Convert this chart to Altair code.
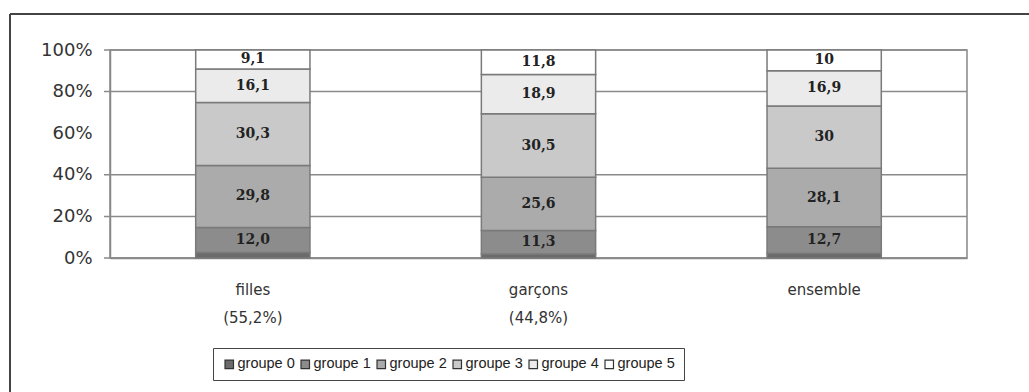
import altair as alt
import pandas as pd

# Share of each group (in %) for girls, boys and everyone
groups = ["groupe 0", "groupe 1", "groupe 2", "groupe 3", "groupe 4", "groupe 5"]
categories = ["filles|(55,2%)", "garçons|(44,8%)", "ensemble"]
filles = ["2,7", "12,0", "29,8", "30,3", "16,1", "9,1"]
garcons = ["1,9", "11,3", "25,6", "30,5", "18,9", "11,8"]
ensemble = ["2,3", "12,7", "28,1", "30", "16,9", "10"]
labelled = [False, True, True, True, True, True]
colors = ["#6b6b6b", "#8c8c8c", "#ababab", "#c9c9c9", "#ebebeb", "#ffffff"]
grid_values = [0, 20, 40, 80, 100]
tick_values = [0, 20, 40, 60, 80, 100]

W, H = 857, 208

rows = []
for cat, series in zip(categories, [filles, garcons, ensemble]):
    for i, (g, s) in enumerate(zip(groups, series)):
        rows.append({
            "category": cat,
            "group": g,
            "order": i,
            "value": float(s.replace(",", ".")),
            "label": s if labelled[i] else "",
        })
df = pd.DataFrame(rows)

FONT = "DejaVu Sans"

x_enc = alt.X(
    "category:N",
    sort=categories,
    scale=alt.Scale(paddingInner=0.6, paddingOuter=0.3),
    axis=alt.Axis(
        title=None, labelExpr="split(datum.label, '|')", labelAngle=0,
        labelFont=FONT, labelFontSize=15, labelColor="#333",
        labelLineHeight=28, labelPadding=24, labelBaseline="top",
        ticks=False, domainColor="#888", domainWidth=1.5,
    ),
)

y_scale = alt.Scale(domain=[0, 1])
y_axis = alt.Axis(
    title=None, values=[v / 100 for v in tick_values], format=".0%",
    grid=False, ticks=False, labelPadding=18,
    labelFont=FONT, labelFontSize=18, labelColor="#333",
    domainColor="#888", domainWidth=1.5,
)

grid = alt.Chart(pd.DataFrame({"g": [v / 100 for v in grid_values]})).mark_rule(
    color="#8a8a8a", strokeWidth=1.5
).encode(
    y=alt.Y("g:Q", scale=y_scale, axis=y_axis),
    x=alt.value(-6),
    x2=alt.value(W),
)

bars = alt.Chart(df).mark_bar(stroke="#7a7a7a", strokeWidth=1.5).encode(
    x=x_enc,
    y=alt.Y("value:Q", stack="normalize", scale=y_scale, axis=y_axis),
    color=alt.Color(
        "group:N", sort=groups,
        scale=alt.Scale(domain=groups, range=colors),
        legend=alt.Legend(
            title=None, orient="none", legendX=103, legendY=298,
            direction="horizontal", columns=6, symbolType="square",
            symbolSize=72, symbolStrokeColor="#333", symbolStrokeWidth=1.2,
            labelFont="Liberation Sans", labelFontSize=14.5, labelColor="#222",
            labelOffset=1, strokeColor="#444", padding=9,
            columnPadding=3, symbolOffset=0,
        ),
    ),
    order=alt.Order("order:Q"),
)

texts = alt.Chart(df).transform_stack(
    stack="value", groupby=["category"], as_=["v0", "v1"],
    sort=[alt.SortField("order")], offset="normalize",
).transform_calculate(
    mid="(datum.v0 + datum.v1) / 2"
).transform_filter(
    "datum.label != ''"
).mark_text(
    font="DejaVu Serif", fontWeight="bold", fontSize=14, color="#222"
).encode(
    x=alt.X("category:N", sort=categories),
    y=alt.Y("mid:Q", scale=y_scale, axis=y_axis),
    text="label:N",
)

# Outer frame (left and top edges)
one = pd.DataFrame({"k": [0]})
frame_left = alt.Chart(one).mark_rule(color="#444", strokeWidth=2).encode(
    x=alt.value(-100), y=alt.value(-36), y2=alt.value(400)
)
frame_top = alt.Chart(one).mark_rule(color="#444", strokeWidth=2).encode(
    x=alt.value(-100), x2=alt.value(940), y=alt.value(-36)
)

chart = alt.layer(grid, bars, texts, frame_left, frame_top).properties(
    width=W, height=H,
    autosize=alt.AutoSizeParams(type="none"),
    padding={"left": 110, "top": 50, "right": 62, "bottom": 134},
    background="white",
).configure_view(stroke="#888", strokeWidth=1.5)

chart.save("out.html", embed_options={"renderer": "svg", "actions": False})
